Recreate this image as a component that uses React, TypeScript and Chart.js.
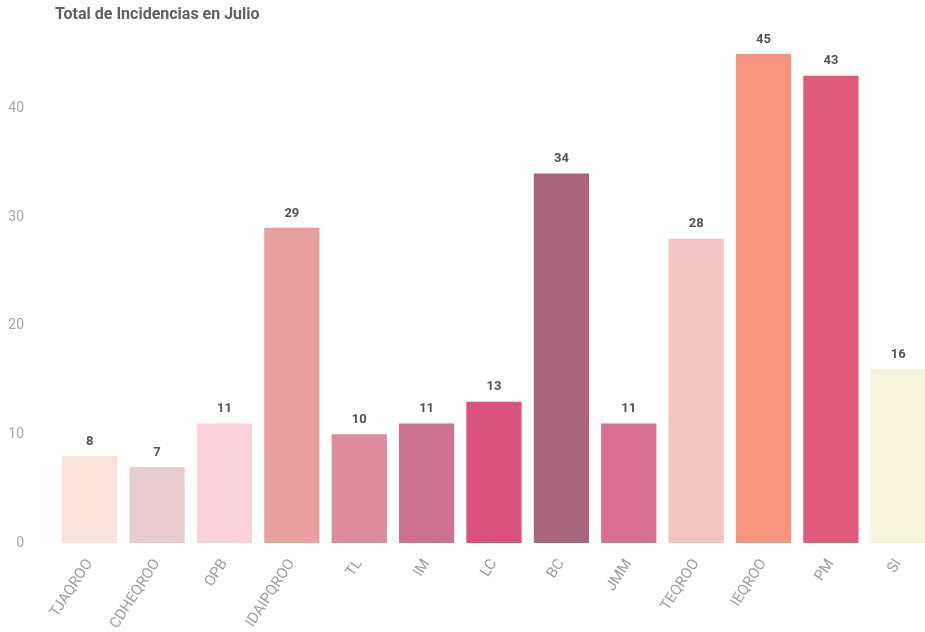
import React, { useEffect, useRef } from "react";
import { Chart, registerables } from "chart.js";

Chart.register(...registerables);

const categories = ["TJAQROO", "CDHEQROO", "OPB", "IDAIPQROO", "TL", "IM", "LC", "BC", "JMM", "TEQROO", "IEQROO", "PM", "SI"];
const values = [8, 7, 11, 29, 10, 11, 13, 34, 11, 28, 45, 43, 16];
const barColors = ["#f8e4dc", "#e8cdd0", "#fad2dc", "#eaa0a0", "#dc8c9c", "#cc7392", "#d9537e", "#a8677c", "#d96f93", "#f2c3c3", "#f5947f", "#e05a7c", "#f6f3dc"];
const yTicks = [0, 10, 20, 30, 40];
const titleText = "Total de Incidencias en Julio";

const FONT = "Roboto, 'Open Sans', sans-serif";

const titlePlugin = {
  id: "titleDraw",
  afterDraw(chart: any) {
    const ctx = chart.ctx;
    ctx.save();
    ctx.font = `bold 16px ${FONT}`;
    ctx.fillStyle = "#5e6166";
    ctx.textAlign = "left";
    ctx.textBaseline = "middle";
    ctx.fillText(titleText, 55, 15);
    ctx.restore();
  },
};

const valueLabels = {
  id: "valueLabels",
  afterDatasetsDraw(chart: any) {
    const ctx = chart.ctx;
    const meta = chart.getDatasetMeta(0);
    ctx.save();
    ctx.font = `bold 13px ${FONT}`;
    ctx.fillStyle = "#555555";
    ctx.textAlign = "center";
    ctx.textBaseline = "bottom";
    meta.data.forEach((bar: any, i: number) => {
      ctx.fillText(String(values[i]), bar.x, bar.y - 8);
    });
    ctx.restore();
  },
};

export default function App() {
  const ref = useRef<HTMLCanvasElement | null>(null);
  useEffect(() => {
    if (!ref.current) return;
    const chart = new Chart(ref.current, {
      type: "bar",
      data: {
        labels: categories,
        datasets: [
          {
            data: values,
            backgroundColor: barColors,
            borderWidth: 0,
            barPercentage: 0.82,
            categoryPercentage: 1,
          },
        ],
      },
      options: {
        animation: false,
        responsive: true,
        maintainAspectRatio: false,
        layout: { padding: { left: 0, right: 0, top: 54, bottom: 0 } },
        plugins: {
          legend: { display: false },
          tooltip: { enabled: false },
          title: { display: false },
        },
        scales: {
          x: {
            grid: { display: false },
            border: { display: false },
            ticks: {
              color: "#a0a0a0",
              font: { family: FONT, size: 15 },
              minRotation: 57,
              maxRotation: 57,
              padding: 5,
            },
            afterFit: (s: any) => {
              s.height = 89;
            },
          },
          y: {
            min: 0,
            max: 45,
            grid: { display: false },
            border: { display: false },
            afterBuildTicks: (s: any) => {
              s.ticks = yTicks.map((v) => ({ value: v }));
            },
            ticks: {
              color: "#a8a8a8",
              font: { family: FONT, size: 14 },
              padding: 24,
            },
            afterFit: (s: any) => {
              s.width = 56;
            },
          },
        },
      },
      plugins: [valueLabels, titlePlugin],
    });
    return () => chart.destroy();
  }, []);

  return (
    <div style={{ position: "fixed", left: 0, top: 0, width: 925, height: 632, overflow: "hidden", background: "#fff" }}>
      <div style={{ position: "absolute", left: 0, top: 0, width: 932, height: 632 }}>
        <canvas ref={ref} />
      </div>
    </div>
  );
}
